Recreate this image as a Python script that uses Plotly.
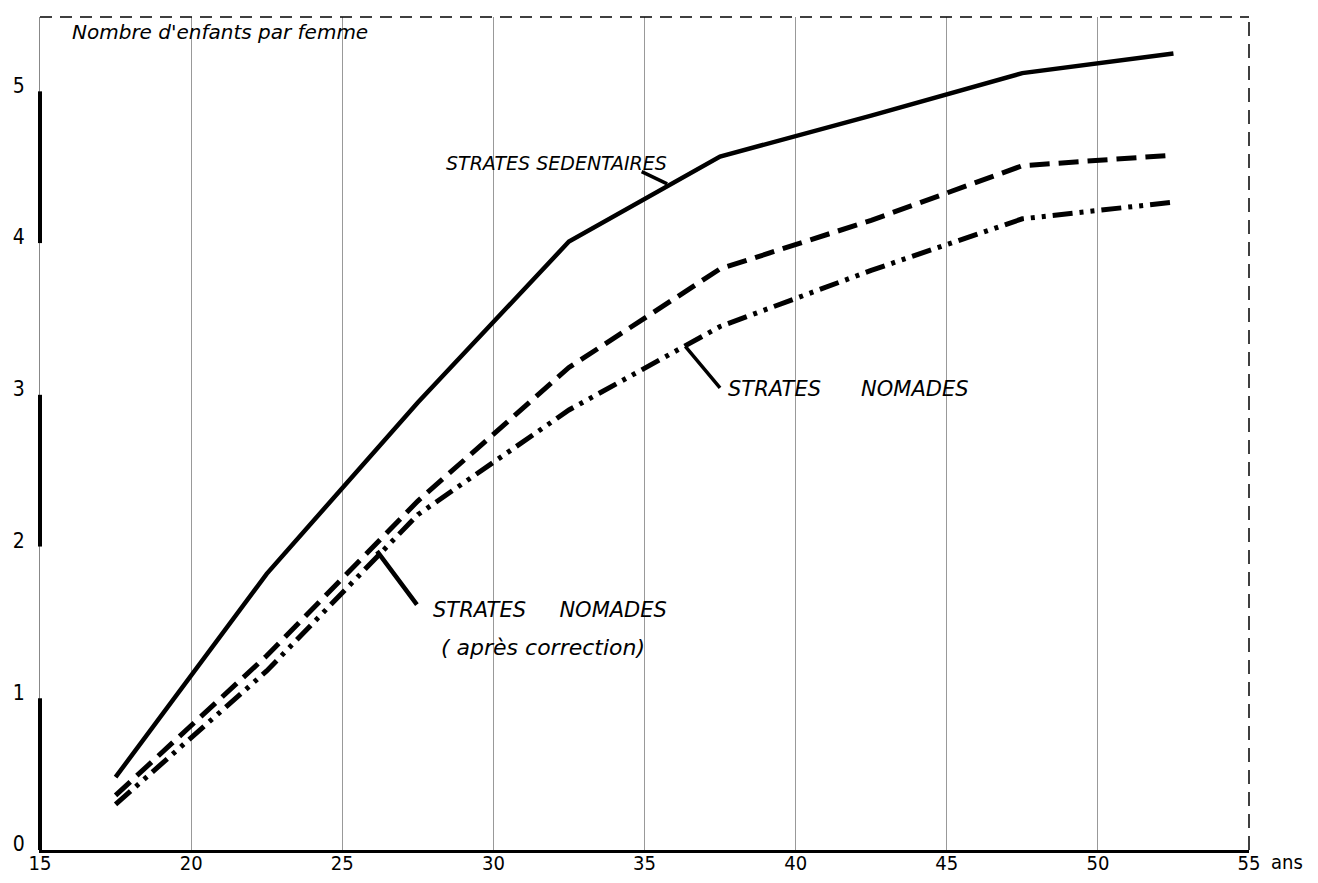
import plotly.graph_objects as go

# Data
ages = [17.5, 22.5, 27.5, 32.5, 37.5, 42.5, 47.5, 52.5]
sedentaires = [0.48, 1.82, 2.95, 4.01, 4.57, 4.84, 5.12, 5.25]
nomades_corr = [0.36, 1.28, 2.30, 3.18, 3.83, 4.15, 4.51, 4.58]
nomades = [0.30, 1.18, 2.21, 2.90, 3.45, 3.82, 4.16, 4.27]

x_ticks = [15, 20, 25, 30, 35, 40, 45, 50, 55]
x_ticktext = ["15", "20", "25", "30", "35", "40", "45", "50", "55"]
y_ticks = [0, 1, 2, 3, 4, 5]
y_ticktext = ["0", "1", "2", "3", "4", "5"]

NB = "\u00a0"
TICKFONT = dict(family="DejaVu Sans Condensed, Liberation Sans Narrow, Roboto Condensed, DejaVu Sans", size=20, color="black")
YTICKFONT = dict(TICKFONT, size=21)
LBLFONT = dict(family="DejaVu Sans, Verdana, sans-serif", size=19, color="black")

fig = go.Figure()
fig.add_trace(go.Scatter(x=ages, y=sedentaires, mode="lines", name="Strates sédentaires",
                         line=dict(color="black", width=4.5)))
fig.add_trace(go.Scatter(x=ages, y=nomades_corr, mode="lines", name="Strates nomades (après correction)",
                         line=dict(color="black", width=5, dash="20px,9px")))
fig.add_trace(go.Scatter(x=ages, y=nomades, mode="lines", name="Strates nomades",
                         line=dict(color="black", width=5, dash="20px,7px,4px,7px,4px,7px")))

annotations = [
    dict(text="<i>Nombre d'enfants par femme</i>", xref="paper", yref="paper", x=0.273, y=1,
         xanchor="right", yanchor="top", yshift=-1, showarrow=False,
         font=dict(family="DejaVu Sans, sans-serif", size=20, color="black")),
    dict(text="ans", xref="paper", yref="paper", x=1.0, y=0, xanchor="left", yanchor="middle",
         xshift=20, yshift=-12, showarrow=False, font=TICKFONT),
    # text labels
    dict(text="<i>STRATES SEDENTAIRES</i>", x=32.1, y=4.53, xref="x", yref="y", xanchor="center",
         yanchor="middle", showarrow=False, font=LBLFONT),
    dict(text="<i>STRATES" + NB * 6 + "NOMADES</i>", x=37.7, y=3.04, xref="x", yref="y", xanchor="left",
         yanchor="middle", showarrow=False, font=dict(LBLFONT, size=21)),
    dict(text="<i>STRATES" + NB * 5 + "NOMADES</i>", x=27.95, y=1.58, xref="x", yref="y",
         xanchor="left", yanchor="middle", showarrow=False, font=dict(LBLFONT, size=21)),
    dict(text="<i>(" + NB + "après correction)</i>", x=28.2, y=1.335, xref="x", yref="y",
         xanchor="left", yanchor="middle", showarrow=False, font=dict(LBLFONT, size=22)),
    # leader lines
    dict(text="", x=35.75, y=4.39, xref="x", yref="y", ax=-27, ay=-13, showarrow=True,
         arrowhead=0, arrowwidth=3.5, arrowcolor="black"),
    dict(text="", x=36.35, y=3.32, xref="x", yref="y", ax=36, ay=43, showarrow=True,
         arrowhead=0, arrowwidth=3.5, arrowcolor="black"),
    dict(text="", x=26.15, y=1.97, xref="x", yref="y", ax=41, ay=55, showarrow=True,
         arrowhead=0, arrowwidth=4.5, arrowcolor="black"),
]

shapes = [
    # dashed frame top and right
    dict(type="line", xref="paper", yref="paper", x0=0, x1=1, y0=1, y1=1,
         line=dict(color="black", width=1.5, dash="12px,8px")),
    dict(type="line", xref="paper", yref="paper", x0=1, x1=1, y0=0, y1=1,
         line=dict(color="black", width=1.5, dash="14px,8px")),
]
# thick segments on the vertical scale (0-1, 2-3, 4-5)
for lo in [0, 2, 4]:
    shapes.append(dict(type="line", xref="paper", yref="y", x0=0, x1=0, y0=lo, y1=lo + 1,
                       line=dict(color="black", width=4)))

fig.update_layout(
    width=1302, height=867,
    margin=dict(l=32, r=61, t=9, b=25),
    plot_bgcolor="white", paper_bgcolor="white",
    showlegend=False,
    annotations=annotations,
    shapes=shapes,
    xaxis=dict(range=[15, 55], tickvals=x_ticks, ticktext=x_ticktext, tickfont=TICKFONT,
               showgrid=True, gridcolor="#999999", gridwidth=1, automargin=False,
               showline=True, linecolor="black", linewidth=3, ticks="", zeroline=False,
               ticklabelstandoff=-7),
    yaxis=dict(range=[0, 5.49], tickvals=y_ticks, ticktext=y_ticktext, tickfont=YTICKFONT,
               showgrid=False, showline=True, linecolor="#888888", linewidth=1, ticks="",
               zeroline=False, ticklabelstandoff=10, ticklabelshift=-6, automargin=False),
)

fig.write_html("out.html")
